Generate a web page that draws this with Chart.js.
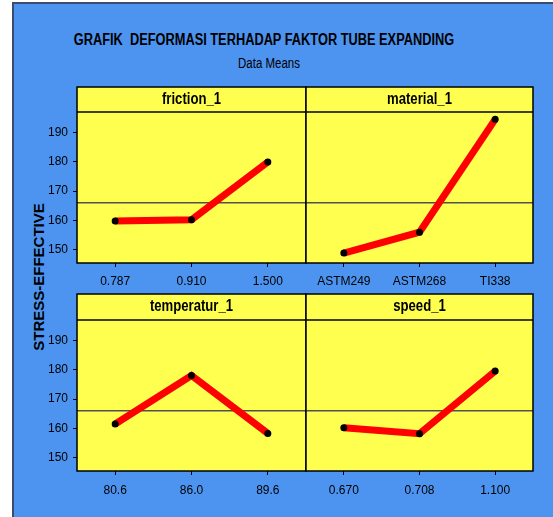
<!DOCTYPE html>
<html lang="en">
<head>
    <meta charset="UTF-8">
    <title>Grafik Deformasi</title>
    <style>
        body { margin: 0; background: #fff; font-family: 'Liberation Sans', Arial, sans-serif; }
        #frame { position: absolute; left: 12px; top: 2px; right: 0; bottom: 0; background: #4d94f0;
                 border-left: 2px solid #3a4d6b; border-top: 2px solid #3a4d6b; }
        .lbl { position: absolute; color: #000; white-space: nowrap; }
        /* no narrow font installed: squeeze the regular one */
        #title { left: 0; top: 31px; width: 528px; text-align: center; font-weight: bold; font-size: 16px;
                 transform: scaleX(0.8); }
        #subtitle { left: 0; top: 55px; width: 538px; text-align: center; font-size: 14px; transform: scaleX(0.82); }
        #ytitle { left: 38px; top: 277px; transform: translate(-50%, -50%) rotate(-90deg);
                  font-weight: bold; font-size: 15px; }
        canvas { position: absolute; }
    </style>
</head>
<body>
<div id="frame"></div>
<div class="lbl" id="title">GRAFIK&nbsp; DEFORMASI TERHADAP FAKTOR TUBE EXPANDING</div>
<div class="lbl" id="subtitle">Data Means</div>
<div class="lbl" id="ytitle">STRESS-EFFECTIVE</div>
<canvas id="c1" width="288" height="205" style="left:22px;top:85px"></canvas>
<canvas id="c2" width="235" height="205" style="left:302px;top:85px"></canvas>
<canvas id="c3" width="288" height="225" style="left:22px;top:292px"></canvas>
<canvas id="c4" width="235" height="225" style="left:302px;top:292px"></canvas>

<script src="https://cdn.jsdelivr.net/npm/chart.js@4.4.1/dist/chart.umd.min.js"></script>
<script>
  // values
  const yTicks = [150, 160, 170, 180, 190];
  const yMin = 145.5, yMax = 196.9;
  const grandMean = 166;

  const frictionLevels = ['0.787', '0.910', '1.500'];
  const frictionMeans = [159.8, 160.2, 179.9];
  const materialLevels = ['ASTM249', 'ASTM268', 'TI338'];
  const materialMeans = [148.9, 156.0, 194.4];
  const temperaturLevels = ['80.6', '86.0', '89.6'];
  const temperaturMeans = [161.5, 178.0, 158.3];
  const speedLevels = ['0.670', '0.708', '1.100'];
  const speedMeans = [160.2, 158.2, 179.5];

  const YELLOW = '#ffff50';
  const FONT = "'Liberation Sans', Arial, sans-serif";

  Chart.defaults.font.family = FONT;
  Chart.defaults.color = '#000';

  // panel background, header strip, mean line and outlines
  const panelPlugin = {
    id: 'panelBox',
    beforeDraw(chart, args, opts) {
      const a = chart.chartArea, c = chart.ctx;
      c.save();
      c.fillStyle = YELLOW;
      c.fillRect(a.left, a.top - opts.headerH, a.right - a.left, a.bottom - a.top + opts.headerH);
      c.restore();
    },
    beforeDatasetsDraw(chart) {
      const a = chart.chartArea, c = chart.ctx;
      const y = chart.scales.y.getPixelForValue(grandMean);
      c.save();
      c.strokeStyle = '#505050';
      c.lineWidth = 1.5;
      c.beginPath();
      c.moveTo(a.left, y);
      c.lineTo(a.right, y);
      c.stroke();
      c.restore();
    },
    afterDraw(chart, args, opts) {
      const a = chart.chartArea, c = chart.ctx;
      c.save();
      c.strokeStyle = '#000';
      c.lineWidth = 1.5;
      c.strokeRect(a.left, a.top - opts.headerH, a.right - a.left, a.bottom - a.top + opts.headerH);
      c.beginPath();
      c.moveTo(a.left, a.top);
      c.lineTo(a.right, a.top);
      c.stroke();
      c.fillStyle = '#000';
      c.font = 'bold 16px ' + FONT;
      c.textAlign = 'center';
      c.textBaseline = 'middle';
      c.translate((a.left + a.right) / 2, a.top - opts.headerH / 2);
      c.scale(0.82, 1);
      c.fillText(opts.text, 0, 0);
      c.restore();
    }
  };

  function makePanel(id, name, labels, values, showY, top) {
    const headerH = top ? 25 : 26;
    const axisH = top ? 27 : 46;
    new Chart(document.getElementById(id), {
      type: 'line',
      data: {
        labels: labels,
        datasets: [{
          data: values,
          borderColor: '#ff0000',
          borderWidth: 7,
          pointRadius: 3.5,
          pointBackgroundColor: '#000',
          pointBorderWidth: 0,
          tension: 0
        }]
      },
      options: {
        responsive: false,
        animation: false,
        layout: {
          padding: { top: top ? 27 : 28, left: 0, right: 0, bottom: 0 }
        },
        plugins: {
          legend: { display: false },
          tooltip: { enabled: false },
          panelBox: { text: name, headerH: headerH }
        },
        scales: {
          x: {
            offset: true,
            grid: { offset: false, drawOnChartArea: false, tickLength: 4, color: '#000' },
            border: { display: false },
            ticks: { font: { size: 12 }, padding: top ? 7 : 8, maxRotation: 0, autoSkip: false },
            afterFit(s) { s.height = axisH; }
          },
          y: {
            display: showY,
            min: yMin,
            max: yMax,
            grid: { drawOnChartArea: false, tickLength: 4, color: '#000' },
            border: { display: false },
            ticks: { font: { size: 12 }, padding: 5 },
            afterBuildTicks(s) { s.ticks = yTicks.map(v => ({ value: v })); },
            afterFit(s) { if (showY) s.width = 55; }
          }
        }
      },
      plugins: [panelPlugin]
    });
  }

  makePanel('c1', 'friction_1', frictionLevels, frictionMeans, true, true);
  makePanel('c2', 'material_1', materialLevels, materialMeans, false, true);
  makePanel('c3', 'temperatur_1', temperaturLevels, temperaturMeans, true, false);
  makePanel('c4', 'speed_1', speedLevels, speedMeans, false, false);
</script>
</body>
</html>
